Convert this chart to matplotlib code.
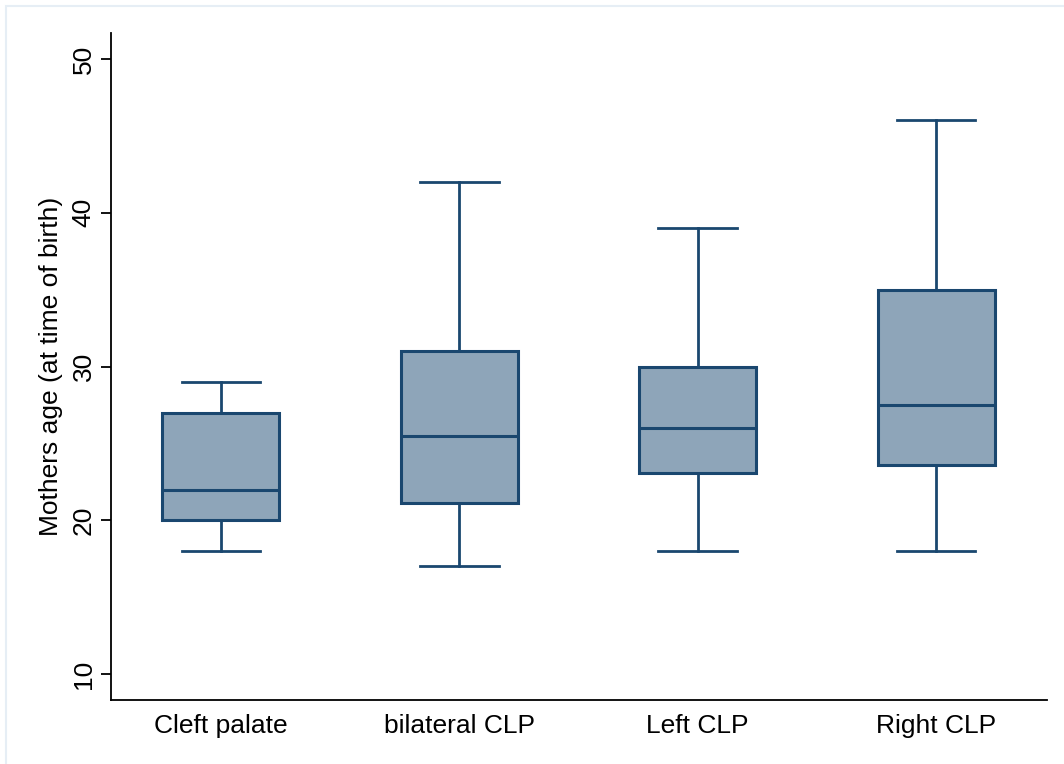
import matplotlib
matplotlib.use("Agg")
import matplotlib.pyplot as plt
from matplotlib.patches import Rectangle

categories = ["Cleft palate", "bilateral CLP", "Left CLP", "Right CLP"]
whisker_low = [18, 17, 18, 18]
q1 = [20, 21.1, 23.1, 23.6]
median = [22, 25.5, 26, 27.5]
q3 = [27, 31, 30, 35]
whisker_high = [29, 42, 39, 46]
yticks = [10, 20, 30, 40, 50]

plt.rcParams['font.family'] = ['Liberation Sans', 'DejaVu Sans']

fig = plt.figure(figsize=(10.64, 7.64), dpi=100)
fig.patches.append(Rectangle((6/1064, -0.05), 1.1, (764-6)/764 + 0.05 - 0.0,
                             transform=fig.transFigure, fill=False,
                             edgecolor='#E6EEF5', linewidth=1.5, zorder=0))
ax = fig.add_axes([111/1064, 1 - 700/764, (1047-111)/1064, (700-33)/764])

stats = []
for i, c in enumerate(categories):
    stats.append(dict(label=c, whislo=whisker_low[i], q1=q1[i], med=median[i],
                      q3=q3[i], whishi=whisker_high[i], fliers=[]))

navy = '#1A476F'
fill = '#8EA5B9'
positions = list(range(1, len(categories) + 1))
ax.bxp(stats, positions=positions, widths=0.49, capwidths=0.33, patch_artist=True,
       showfliers=False,
       boxprops=dict(facecolor=fill, edgecolor=navy, linewidth=2.2),
       medianprops=dict(color=navy, linewidth=2.2),
       whiskerprops=dict(color=navy, linewidth=2.0),
       capprops=dict(color=navy, linewidth=2.0))

ax.set_xlim(0.539, 4.465)
ax.set_ylim(8.31, 51.69)
ax.set_yticks(yticks)
ax.set_yticklabels([str(t) for t in yticks], rotation=90, va='center', fontsize=19)
ax.set_xticks(positions)
ax.set_xticklabels(categories, fontsize=19)
ax.tick_params(axis='x', length=0, pad=10)
ax.tick_params(axis='y', length=7, width=1.3, pad=4)
for s in ['top', 'right']:
    ax.spines[s].set_visible(False)
for s in ['left', 'bottom']:
    ax.spines[s].set_linewidth(1.3)
ax.set_ylabel("Mothers age (at time of birth)", fontsize=19, labelpad=6)

fig.savefig("out.png", dpi=100)
